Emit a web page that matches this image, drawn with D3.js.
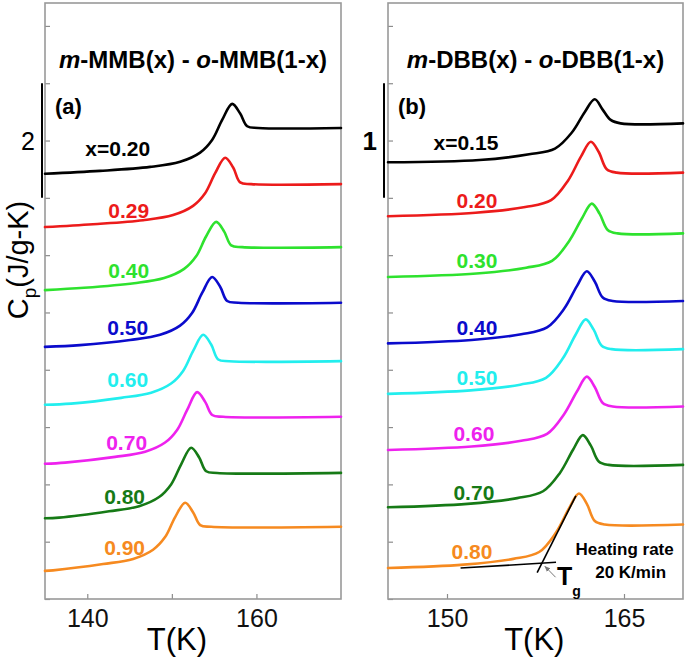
<!DOCTYPE html>
<html><head><meta charset="utf-8">
<script src="https://cdn.jsdelivr.net/npm/d3@7"></script>
<style>body{margin:0;background:#fff}svg{display:block}text{font-family:"Liberation Sans",Arial,sans-serif}</style>
</head><body><svg id="c" width="685" height="659"></svg>
<script>
// ---------- data ----------
const seriesLabelsA = ["x=0.20","0.29","0.40","0.50","0.60","0.70","0.80","0.90"];
const seriesLabelsB = ["x=0.15","0.20","0.30","0.40","0.50","0.60","0.70","0.80"];
const seriesColors = ["#000000","#ec1b1b","#2ee22e","#0b0bcc","#22eeee","#ee22ee","#167a16","#f68a20"];

const tempA = [
 [135,141.51,147.43,150.98,153.34,154.76,155.95,157.13,158.08,158.91,160.21,170],
 [135,140.68,146.60,150.15,152.51,153.93,155.12,156.30,157.25,158.08,159.38,170],
 [135,139.62,145.54,149.09,151.45,152.87,154.06,155.24,156.19,157.02,158.32,170],
 [135,139.14,145.06,148.61,150.97,152.39,153.58,154.76,155.71,156.54,157.84,170],
 [135,138.08,144.00,147.55,149.91,151.33,152.52,153.70,154.65,155.48,156.78,170],
 [135,137.37,143.29,146.84,149.20,150.62,151.81,152.99,153.94,154.77,156.07,170],
 [135,136.66,142.58,146.13,148.49,149.91,151.10,152.28,153.23,154.06,155.36,170],
 [135,135.95,141.87,145.42,147.78,149.20,150.39,151.57,152.52,153.35,154.65,170]
];
const cpA = [
 [7.42,7.47,7.54,7.63,7.79,8.01,8.36,8.64,8.47,8.25,8.22,8.22],
 [6.49,6.54,6.61,6.70,6.86,7.08,7.43,7.70,7.53,7.27,7.24,7.24],
 [5.39,5.43,5.51,5.60,5.76,5.98,6.33,6.58,6.41,6.17,6.14,6.14],
 [4.40,4.43,4.52,4.61,4.77,4.99,5.34,5.62,5.45,5.20,5.17,5.17],
 [3.39,3.41,3.51,3.60,3.76,3.98,4.33,4.61,4.44,4.18,4.15,4.15],
 [2.36,2.38,2.48,2.57,2.73,2.95,3.30,3.61,3.44,3.21,3.18,3.18],
 [1.41,1.42,1.53,1.62,1.78,2.00,2.35,2.64,2.47,2.23,2.20,2.20],
 [0.49,0.50,0.61,0.70,0.86,1.08,1.43,1.68,1.51,1.29,1.26,1.26]
];
const tempB = [
 [145,152.75,156.96,159.15,160.58,161.68,162.52,163.19,163.87,164.71,170],
 [145,152.42,156.63,158.82,160.25,161.35,162.19,162.86,163.54,164.38,170],
 [145,152.50,156.71,158.90,160.33,161.43,162.27,162.94,163.62,164.46,170],
 [145,152.08,156.29,158.48,159.91,161.01,161.85,162.52,163.20,164.04,170],
 [145,151.99,156.20,158.39,159.82,160.92,161.76,162.43,163.11,163.95,170],
 [145,152.08,156.29,158.48,159.91,161.01,161.85,162.52,163.20,164.04,170],
 [145,151.74,155.95,158.14,159.57,160.67,161.51,162.18,162.86,163.70,170],
 [145,151.41,155.62,157.81,159.24,160.34,161.18,161.85,162.53,163.37,170]
];
const cpB = [
 [3.81,3.83,3.88,3.93,4.07,4.25,4.36,4.27,4.18,4.15,4.15],
 [3.34,3.37,3.42,3.48,3.65,3.86,3.99,3.90,3.75,3.72,3.72],
 [2.81,2.84,2.89,2.95,3.12,3.32,3.45,3.36,3.22,3.19,3.19],
 [2.23,2.26,2.31,2.37,2.53,2.73,2.86,2.77,2.63,2.60,2.60],
 [1.79,1.82,1.87,1.93,2.10,2.31,2.44,2.35,2.21,2.18,2.18],
 [1.30,1.33,1.38,1.44,1.61,1.81,1.94,1.85,1.71,1.68,1.68],
 [0.80,0.83,0.88,0.94,1.10,1.30,1.43,1.34,1.20,1.17,1.17],
 [0.27,0.30,0.35,0.41,0.58,0.79,0.92,0.83,0.68,0.65,0.65]
];
// label anchors (right end T, baseline Cp)
const labelTA = [147.43,147.31,147.31,147.19,147.19,147.07,146.83,146.83];
const labelCpA = [7.73,6.65,5.60,4.61,3.70,2.60,1.66,0.77];
const labelTB = [154.35,154.27,154.27,154.27,154.27,154.01,154.01,153.85];
const labelCpB = [3.92,3.41,2.89,2.30,1.87,1.38,0.86,0.35];

const xTicksA = [140,150,160], xTickLabelsA = ["140","","160"];
const xTicksB = [150,165], xTickLabelsB = ["150","165"];
const yTicksA = [0,1,2,3,4,5,6,7,8,9,10];
const yTicksB = [0,0.5,1,1.5,2,2.5,3,3.5,4,4.5,5];
const scaleBarA = [7,9], scaleBarLabelA = "2";
const scaleBarB = [3.5,4.5], scaleBarLabelB = "1";
// Tg construction on x=0.80 curve of panel (b)
const tangentBase = [[151.15,0.27],[159.24,0.32]];
const tangentRise = [[157.64,0.23],[160.92,0.90]];
const tgArrow = [[159.2,0.19],[158.3,0.285]];

// ---------- drawing ----------
const svg = d3.select("#c");
const defs = svg.append("defs");
defs.append("marker").attr("id","ah").attr("viewBox","0 0 10 10").attr("refX",9).attr("refY",5)
  .attr("markerWidth",6).attr("markerHeight",6).attr("orient","auto")
  .append("path").attr("d","M0,1 L10,5 L0,9 z").attr("fill","#777");

const plotTop = 3, plotBottom = 599;
const panels = [
 {x0:45,x1:341,xDom:[135,170],yDom:[0,10.40],xTicks:xTicksA,xTickLabels:xTickLabelsA,yTicks:yTicksA,
  T:tempA,Cp:cpA,labels:seriesLabelsA,labT:labelTA,labCp:labelCpA,tag:"(a)",bar:scaleBarA,barLabel:scaleBarLabelA,
  barBold:false,xLabelT:150.6,titleMain:"MMB"},
 {x0:388,x1:683,xDom:[145,170],yDom:[0,5.20],xTicks:xTicksB,xTickLabels:xTickLabelsB,yTicks:yTicksB,
  T:tempB,Cp:cpB,labels:seriesLabelsB,labT:labelTB,labCp:labelCpB,tag:"(b)",bar:scaleBarB,barLabel:scaleBarLabelB,
  barBold:true,xLabelT:157.4,titleMain:"DBB"}
];

panels.forEach((p,pi)=>{
  const x = d3.scaleLinear().domain(p.xDom).range([p.x0,p.x1]);
  const y = d3.scaleLinear().domain(p.yDom).range([plotBottom,plotTop]);
  const g = svg.append("g");

  const xa = d3.axisBottom(x).tickValues(p.xTicks).tickSizeInner(-5).tickSizeOuter(0).tickPadding(10)
     .tickFormat((d,i)=>p.xTickLabels[i]);
  const gx = g.append("g").attr("transform",`translate(0,${plotBottom})`).call(xa);
  gx.select(".domain").remove();
  gx.selectAll(".tick line").attr("stroke","#8c8c8c").attr("stroke-width",1.2);
  gx.selectAll(".tick text").attr("font-size",25).attr("fill","#111").attr("font-family","Liberation Sans, Arial, sans-serif");

  const ya = d3.axisLeft(y).tickValues(p.yTicks).tickSizeInner(-5).tickSizeOuter(0).tickFormat("");
  const gy = g.append("g").attr("transform",`translate(${p.x0},0)`).call(ya);
  gy.select(".domain").remove();
  gy.selectAll(".tick line").attr("stroke","#8c8c8c").attr("stroke-width",1.2);

  g.append("rect").attr("x",p.x0).attr("y",plotTop).attr("width",p.x1-p.x0).attr("height",plotBottom-plotTop)
    .attr("fill","none").attr("stroke","#999").attr("stroke-width",1.6);

  const line = d3.line().x(d=>x(d[0])).y(d=>y(d[1])).curve(d3.curveCatmullRom.alpha(0.5));
  p.T.forEach((ts,i)=>{
    const pts = ts.map((t,j)=>[t,p.Cp[i][j]]);
    g.append("path").attr("d",line(pts)).attr("fill","none").attr("stroke",seriesColors[i])
      .attr("stroke-width",2.6).attr("stroke-linejoin","round").attr("stroke-linecap","round");
  });

  p.labels.forEach((lab,i)=>{
    g.append("text").attr("x",x(p.labT[i])).attr("y",y(p.labCp[i])).attr("text-anchor","end")
      .attr("font-size",21).attr("font-weight","bold").attr("fill",seriesColors[i]).text(lab);
  });

  g.append("text").attr("x",p.x0+10).attr("y",114).attr("font-size",22).attr("font-weight","bold").text(p.tag);

  const tt = g.append("text").attr("x",(p.x0+p.x1)/2).attr("y",68).attr("text-anchor","middle")
    .attr("font-size",24).attr("font-weight","bold");
  tt.append("tspan").attr("font-style","italic").text("m");
  tt.append("tspan").text("-"+p.titleMain+"(x) - ");
  tt.append("tspan").attr("font-style","italic").text("o");
  tt.append("tspan").text("-"+p.titleMain+"(1-x)");

  const bx = p.x0 - (pi===0?3:4);
  g.append("line").attr("x1",bx).attr("x2",bx).attr("y1",y(p.bar[0])).attr("y2",y(p.bar[1]))
    .attr("stroke","#000").attr("stroke-width",2);
  g.append("text").attr("x",bx-7).attr("y",y((p.bar[0]+p.bar[1])/2)+9).attr("text-anchor","end")
    .attr("font-size",pi===0?25:26).attr("font-weight",p.barBold?"bold":"normal").text(p.barLabel);

  g.append("text").attr("x",x(p.xLabelT)).attr("y",650).attr("text-anchor","middle").attr("font-size",31).text("T(K)");

  if(pi===1){
    const seg = d3.line().x(d=>x(d[0])).y(d=>y(d[1]));
    g.append("path").attr("d",seg(tangentBase)).attr("stroke","#000").attr("stroke-width",1.6).attr("fill","none");
    g.append("path").attr("d",seg(tangentRise)).attr("stroke","#000").attr("stroke-width",1.6).attr("fill","none");
    g.append("path").attr("d",seg(tgArrow)).attr("stroke","#777").attr("stroke-width",1).attr("fill","none").attr("marker-end","url(#ah)");
    const tg = g.append("text").attr("x",x(159.32)).attr("y",y(0.12)).attr("font-size",25).attr("font-weight","bold").text("T");
    tg.append("tspan").attr("font-size",14).attr("dy",11).text("g");
    g.append("text").attr("x",x(165.05)).attr("y",y(0.384)).attr("text-anchor","middle").attr("font-size",17).attr("font-weight","bold").text("Heating rate");
    g.append("text").attr("x",x(165.56)).attr("y",y(0.183)).attr("text-anchor","middle").attr("font-size",17).attr("font-weight","bold").text("20 K/min");
  }
});

const yl = svg.append("text").attr("transform","translate(28,260) rotate(-90)").attr("text-anchor","middle").attr("font-size",29);
yl.append("tspan").text("C");
yl.append("tspan").attr("font-size",19).attr("dy",8).text("p");
yl.append("tspan").attr("dy",-8).text("(J/g-K)");
</script></body></html>
